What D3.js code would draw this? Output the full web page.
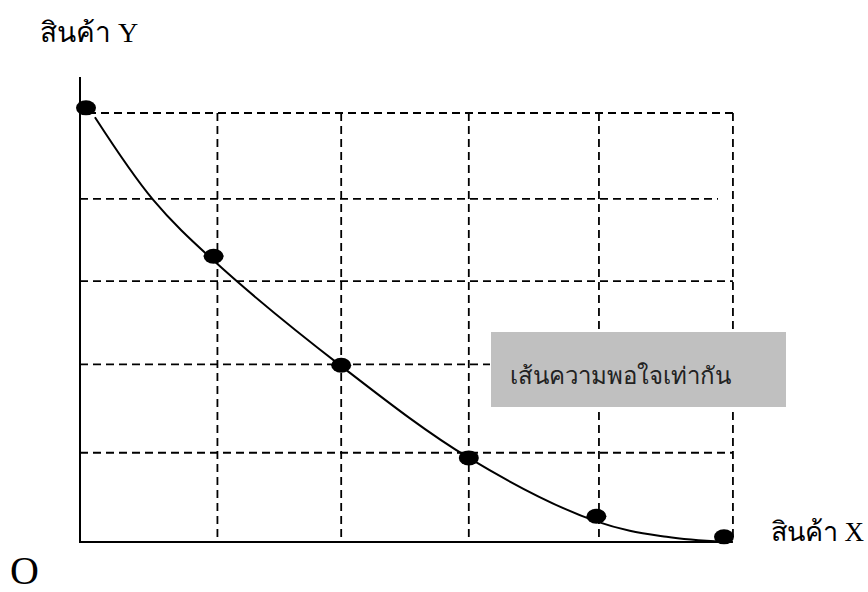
<!DOCTYPE html>
<html><head><meta charset="utf-8">
<script src="https://cdn.jsdelivr.net/npm/d3@7/dist/d3.min.js"></script>
<style>body{margin:0;background:#fff}svg{display:block}</style>
</head><body>
<svg id="c" width="868" height="592"></svg>
<script>
// Data (abstract units of good X and good Y)
const pointsX = [0, 1, 2, 3, 4, 5];
const pointsY = [5.06, 3.33, 2.06, 0.98, 0.30, 0.06];
const curveX = [0.07, 0.525, 1.0, 2.0, 3.0, 4.0, 4.55, 5.0];
const curveY = [4.95, 3.99, 3.28, 2.05, 0.98, 0.24, 0.06, 0.0];
const gridXs = [1.03, 2.0, 3.0, 4.02, 5.07];
const gridYs = [5.0, 4.0, 3.04, 2.07, 1.04];
const labelY = "สินค้า Y";
const labelX = "สินค้า X";
const labelO = "O";
const boxLabel = "เส้นความพอใจเท่ากัน";

const svg = d3.select("#c");
const x = d3.scaleLinear().domain([0, 5]).range([86, 724]);
const y = d3.scaleLinear().domain([0, 5]).range([542, 113]);
const x0 = 80, xEnd = x(5.07), yTop = 77;

// horizontal gridlines
const hEnds = [x(5.07), 718, x(5.07), 490, x(5.07)];
svg.append("g").selectAll("line").data(gridYs).join("line")
  .attr("x1", (d,i) => i === 0 ? 88 : x0).attr("x2", (d,i) => hEnds[i])
  .attr("y1", d => y(d)).attr("y2", d => y(d))
  .attr("stroke", "#000").attr("stroke-width", 1.8).attr("stroke-dasharray", "8,5");
// vertical gridlines
svg.append("g").selectAll("line").data(gridXs).join("line")
  .attr("x1", d => x(d)).attr("x2", d => x(d))
  .attr("y1", y(5)).attr("y2", y(0))
  .attr("stroke", "#000").attr("stroke-width", 1.8).attr("stroke-dasharray", "8,5");

// box
svg.append("rect").attr("x", 491).attr("y", 332).attr("width", 295).attr("height", 75).attr("fill", "#c0c0c0");
svg.append("text").attr("x", 510).attr("y", 384).text(boxLabel)
  .attr("font-family", "'Liberation Serif', 'Noto Sans', serif").attr("font-size", 24).attr("fill", "#222");

// axes
svg.append("path").attr("d", d3.line()([[x0, yTop], [x0, y(0)], [xEnd, y(0)]]))
  .attr("fill", "none").attr("stroke", "#000").attr("stroke-width", 2);

// curve
const curveData = curveX.map((d, i) => [d, curveY[i]]);
svg.append("path").datum(curveData)
  .attr("d", d3.line().x(d => x(d[0])).y(d => y(d[1])).curve(d3.curveCatmullRom.alpha(0.5)))
  .attr("fill", "none").attr("stroke", "#000").attr("stroke-width", 2);

// points
svg.append("g").selectAll("ellipse").data(pointsX.map((d, i) => [d, pointsY[i]])).join("ellipse")
  .attr("cx", d => x(d[0])).attr("cy", d => y(d[1])).attr("rx", 10).attr("ry", 7.5).attr("fill", "#000");

// labels
const ff = "'Liberation Serif', 'Times New Roman', serif";
svg.append("text").attr("x", 40).attr("y", 42).text(labelY).attr("font-family", ff).attr("font-size", 28);
svg.append("text").attr("x", 864).attr("y", 541).attr("text-anchor", "end").text(labelX).attr("font-family", ff).attr("font-size", 27);
svg.append("text").attr("x", 10).attr("y", 584).text(labelO).attr("font-family", ff).attr("font-size", 40);
</script>
</body></html>
